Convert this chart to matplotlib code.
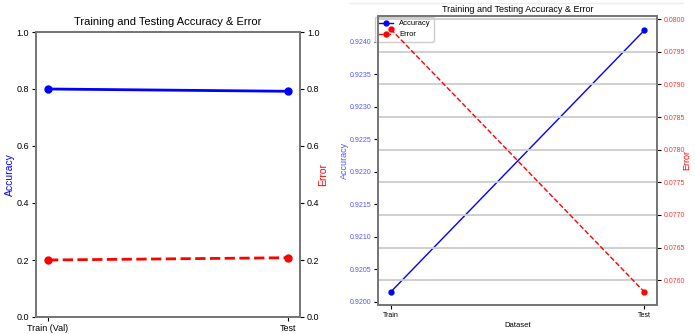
import matplotlib.pyplot as plt
from matplotlib.lines import Line2D

# left panel data
left_labels = ["Train (Val)", "Test"]
left_accuracy = [0.800, 0.792]
left_error = [0.200, 0.208]

# right panel data
right_labels = ["Train", "Test"]
right_accuracy = [0.92015, 0.92418]
right_error = [0.07985, 0.07582]

plt.rcParams["font.family"] = ["Liberation Sans", "DejaVu Sans"]


def style_spines(ax):
    for sp in ax.spines.values():
        sp.set_color("#777777")
        sp.set_linewidth(1.4)


fig = plt.figure(figsize=(6.95, 3.34), dpi=100)

# ---- left panel ----
ax1 = fig.add_axes([36 / 695, 17 / 334, 264 / 695, 285 / 334])
ax1.plot(left_labels, left_accuracy, color="blue", marker="o", linewidth=2, markersize=5)
ax1.set_ylim(0, 1)
ax1.set_ylabel("Accuracy", color="blue", fontsize=7.5)
ax1.yaxis.set_label_coords(-0.08, 0.5)
ax1.set_title("Training and Testing Accuracy & Error", fontsize=8, pad=5)
ax1b = ax1.twinx()
ax1b.plot(left_labels, left_error, color="red", marker="o", linestyle="--", linewidth=2, markersize=5)
ax1b.set_ylim(0, 1)
ax1b.set_ylabel("Error", color="red", fontsize=7.5)
ax1b.yaxis.set_label_coords(1.07, 0.5)
for a in (ax1, ax1b):
    style_spines(a)
    a.tick_params(labelsize=6.5, length=3, pad=2)
ax1.set_xlim(-0.05, 1.05)

# ---- right panel ----
ax2 = fig.add_axes([378 / 695, 29 / 334, 279 / 695, 289 / 334])
l1, = ax2.plot(right_labels, right_accuracy, color="blue", marker="o", linewidth=1, markersize=3.5, label="Accuracy")
ax2.set_ylim(0.91995, 0.92440)
ax2.set_ylabel("Accuracy", color="#5555ff", fontsize=6.5)
ax2.yaxis.set_label_coords(-0.105, 0.5)
ax2.set_xlabel("Dataset", fontsize=5.5)
ax2.xaxis.set_label_coords(0.5, -0.06)
ax2.set_title("Training and Testing Accuracy & Error", fontsize=6.5, pad=3)
ax2.tick_params(axis="y", labelcolor="#5555ff")
ax2b = ax2.twinx()
l2, = ax2b.plot(right_labels, right_error, color="red", marker="o", linestyle="--", linewidth=1, markersize=3.5, label="Error")
ax2b.set_ylim(0.07562, 0.08005)
ax2b.set_yticks([0.0760, 0.0765, 0.0770, 0.0775, 0.0780, 0.0785, 0.0790, 0.0795, 0.0800])
ax2b.set_ylabel("Error", color="red", fontsize=6.5)
ax2b.yaxis.set_label_coords(1.09, 0.5)
ax2b.tick_params(axis="y", labelcolor="#ff3333")
ax2b.grid(True, color="#cccccc", linewidth=1.3)
ax2.set_yticks([0.9200, 0.9205, 0.9210, 0.9215, 0.9220, 0.9225, 0.9230, 0.9235, 0.9240])
ax2.set_yticklabels([f"{v:.4f}" for v in ax2.get_yticks()])
ax2b.set_yticklabels([f"{v:.4f}" for v in ax2b.get_yticks()])
for a in (ax2, ax2b):
    style_spines(a)
    a.tick_params(labelsize=5, length=3, pad=2)
ax2.set_xlim(-0.05, 1.05)
ax2.legend(handles=[l1, l2], loc="upper left", bbox_to_anchor=(-0.025, 1.01), fontsize=5.5, framealpha=1)

# faint frame line along the top of the right screenshot
fig.add_artist(Line2D([350 / 695, 683 / 695], [331 / 334, 331 / 334], color="#eeeeee", linewidth=1))

fig.savefig("out.png", dpi=100)
